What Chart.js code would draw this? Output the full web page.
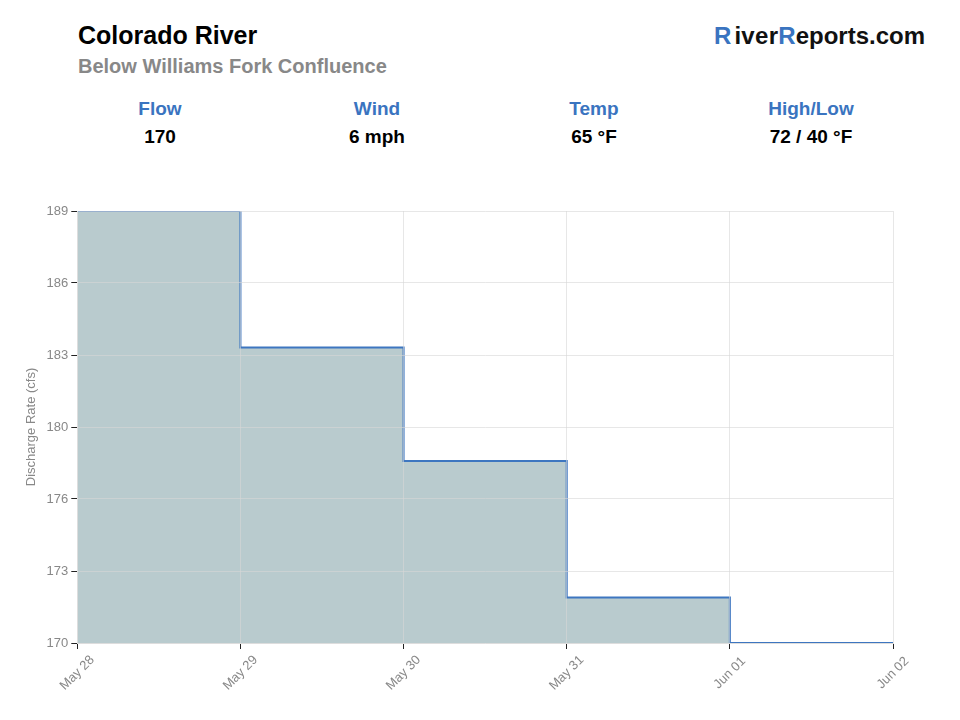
<!DOCTYPE html>
<html>
<head>
<meta charset="utf-8">
<script src="https://cdn.jsdelivr.net/npm/chart.js@4"></script>
<style>
	body { margin: 0; width: 960px; height: 720px; background: #fff; font-family: "Liberation Sans", Arial, sans-serif; position: relative; overflow: hidden; }
	.title { position: absolute; left: 78px; top: 21px; font-size: 25px; font-weight: bold; color: #000; }
	.subtitle { position: absolute; left: 78px; top: 55px; font-size: 20px; font-weight: bold; color: #888; }
	.brand { position: absolute; right: 35px; top: 22px; font-size: 24px; font-weight: bold; color: #111; }
	.brand .r { color: #3a74c0; }
	.stat { position: absolute; top: 98px; width: 200px; text-align: center; font-weight: bold; font-size: 19px; }
	.stat .lbl { color: #3a74c0; }
	.stat .val { color: #000; margin-top: 6px; }
	#myChart { position: absolute; left: 0; top: 190px; }
</style>
</head>
<body>
<div class="title">Colorado River</div>
<div class="subtitle">Below Williams Fork Confluence</div>
<div class="brand"><span class="r">R</span><span style="margin-left:3px; letter-spacing:0.3px">iver</span><span class="r">R</span>eports.com</div>
<div id="stats"></div>
<canvas id="myChart" width="960" height="530"></canvas>
<script>
// header stats
const statLabels = ["Flow", "Wind", "Temp", "High/Low"];
const statValues = ["170", "6 mph", "65 °F", "72 / 40 °F"];

// chart data
const dates = ["May 28", "May 29", "May 30", "May 31", "Jun 01", "Jun 02"];
const discharge = [189, 183, 178, 172, 170, 170];
const yMin = 170;
const yMax = 189;

const statsEl = document.getElementById("stats");
statLabels.forEach((lbl, i) => {
	const d = document.createElement("div");
	d.className = "stat";
	d.style.left = (60 + i * 217) + "px";
	d.innerHTML = `<div class="lbl">${lbl}</div><div class="val">${statValues[i]}</div>`;
	statsEl.appendChild(d);
});

// x labels rotated 45deg and centred under each tick
const centredXLabels = {
	id: "centredXLabels",
	afterDraw(chart) {
		const xs = chart.scales.x;
		const c = chart.ctx;
		c.save();
		c.fillStyle = "#888";
		c.font = "13px 'Liberation Sans'";
		c.textAlign = "center";
		c.textBaseline = "middle";
		xs.ticks.forEach((t, i) => {
			c.save();
			c.translate(xs.getPixelForTick(i), xs.top + 30);
			c.rotate(-Math.PI / 4);
			c.fillText(xs.getLabelForValue(t.value), 0, 0);
			c.restore();
		});
		c.restore();
	},
};

const ctx = document.getElementById("myChart").getContext("2d");
new Chart(ctx, {
	type: "line",
	data: {
		labels: dates,
		datasets: [
			{
				label: "Discharge",
				data: discharge,
				stepped: true,
				fill: "start",
				backgroundColor: "#b9cbce",
				borderColor: "#3d76c0",
				borderWidth: 2,
				pointRadius: 0,
			},
		],
	},
	plugins: [centredXLabels],
	options: {
		responsive: false,
		animation: false,
		layout: { padding: { top: 21, right: 67, left: 20, bottom: 71 } },
		plugins: { legend: { display: false }, tooltip: { enabled: false } },
		scales: {
			x: {
				grid: { color: "rgba(215,215,215,0.6)", tickColor: "#222", tickLength: 6, z: 1 },
				border: { color: "#ddd", z: 2 },
				ticks: { display: false },
			},
			y: {
				min: yMin,
				max: yMax,
				grid: { color: "rgba(215,215,215,0.6)", tickColor: "#222", tickLength: 6, z: 1 },
				border: { color: "#ddd", z: 2 },
				afterBuildTicks: (scale) => {
					const n = 6;
					scale.ticks = [];
					for (let i = 0; i <= n; i++) scale.ticks.push({ value: yMin + (yMax - yMin) * i / n });
				},
				ticks: {
					color: "#888",
					font: { size: 13, family: "Liberation Sans" },
					callback: (v) => Math.round(v),
				},
				title: { display: true, text: "Discharge Rate (cfs)", color: "#888", font: { size: 13, family: "Liberation Sans" } },
			},
		},
	},
});
</script>
</body>
</html>
